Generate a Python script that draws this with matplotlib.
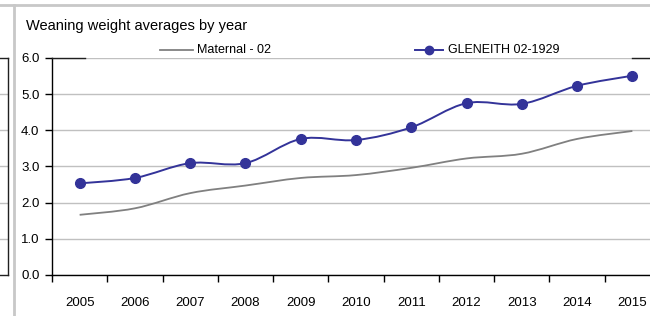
import matplotlib
matplotlib.use("Agg")
import matplotlib.pyplot as plt
from matplotlib.path import Path
from matplotlib.patches import PathPatch
from matplotlib.lines import Line2D
from matplotlib import font_manager as fm
import numpy as np

years = ["2005", "2006", "2007", "2008", "2009", "2010", "2011", "2012", "2013", "2014", "2015"]
maternal = [1.66, 1.84, 2.26, 2.47, 2.68, 2.76, 2.96, 3.22, 3.35, 3.76, 3.98]
gleneith = [2.53, 2.68, 3.09, 3.09, 3.76, 3.73, 4.08, 4.75, 4.73, 5.23, 5.51]
y_ticks = [0.0, 1.0, 2.0, 3.0, 4.0, 5.0, 6.0]
title = "Weaning weight averages by year"
series_names = ["Maternal - 02", "GLENEITH 02-1929"]

names = {f.name for f in fm.fontManager.ttflist}
fam = ["Liberation Sans Narrow", "Liberation Sans", "DejaVu Sans"]
fam = [f for f in fam if f in names] or ["DejaVu Sans"]
plt.rcParams["font.family"] = fam

BLUE = "#333399"
GREY = "#808080"
GRID = "#c0c0c0"

W, H = 650, 316
fig = plt.figure(figsize=(W / 100, H / 100), dpi=100)
fig.patch.set_facecolor("white")

# frame lines of the surrounding sheet
fig.add_artist(Line2D([0, 1], [1 - 4.5 / H, 1 - 4.5 / H], color="#c8c8c8", lw=2, transform=fig.transFigure))
fig.add_artist(Line2D([14 / W, 14 / W], [0, 1 - 4.5 / H], color="#c8c8c8", lw=2, transform=fig.transFigure))

left_px, right_px = 52, 660
bot_px, top_px = 316 - 274.8, 316 - 58
ax = fig.add_axes([left_px / W, bot_px / H, (right_px - left_px) / W, (top_px - bot_px) / H])

# neighbouring chart remnant on the left
ax0 = fig.add_axes([-300 / W, bot_px / H, (300 + 8) / W, (top_px - bot_px) / H])
ax0.set_xlim(0, 1)
ax0.set_ylim(0, 6)
for s in ["top", "left", "bottom"]:
    ax0.spines[s].set_visible(False)
ax0.spines["right"].set_color("#202020")
ax0.spines["right"].set_linewidth(1)
ax0.set_xticks([])
ax0.set_yticks(y_ticks[1:-1])
ax0.tick_params(axis="y", length=0, labelleft=False)
ax0.yaxis.grid(True, color=GRID, lw=1)
ax0.plot([0, 1], [6, 6], color="#202020", lw=1, clip_on=False)
ax0.plot([0, 1], [0, 0], color="#202020", lw=1, clip_on=False)

n = len(years)
x = np.arange(n)
ax.set_xlim(-0.5, n - 0.5)
ax.set_ylim(0, 6)


def smooth_path(xs, ys):
    pts = np.column_stack([xs, ys]).astype(float)
    verts = [pts[0]]
    codes = [Path.MOVETO]
    for i in range(len(pts) - 1):
        p0 = pts[i - 1] if i > 0 else pts[i]
        p1 = pts[i]
        p2 = pts[i + 1]
        p3 = pts[i + 2] if i + 2 < len(pts) else pts[i + 1]
        c1 = p1 + (p2 - p0) / 6.0
        c2 = p2 - (p3 - p1) / 6.0
        verts += [c1, c2, p2]
        codes += [Path.CURVE4] * 3
    return Path(verts, codes)


ax.add_patch(PathPatch(smooth_path(x, maternal), fill=False, edgecolor=GREY, lw=1.3, zorder=3))
ax.add_patch(PathPatch(smooth_path(x, gleneith), fill=False, edgecolor=BLUE, lw=1.4, zorder=4))
ax.plot(x, gleneith, linestyle="none", marker="o", ms=7, color=BLUE, zorder=5)

ax.set_yticks(y_ticks)
ax.set_yticklabels([f"{v:.1f}" for v in y_ticks])
ax.yaxis.grid(True, color=GRID, lw=1)
ax.set_axisbelow(True)
ax.set_xticks(x)
ax.set_xticklabels(years)
ax.set_xticks(np.arange(n + 1) - 0.5, minor=True)
ax.tick_params(axis="x", which="major", length=0, pad=16, labelsize=9.5, labelcolor="#000000")
ax.tick_params(axis="x", which="minor", length=5, width=1, direction="out", color="#000000")
ax.tick_params(axis="y", length=5, width=1, direction="out", pad=4, labelsize=9.5, color="#000000")
for s in ["top", "right"]:
    ax.spines[s].set_visible(False)
for s in ["left", "bottom"]:
    ax.spines[s].set_color("#000000")
    ax.spines[s].set_linewidth(1)

# top border segments visible around legend
ax.plot([-0.5, -0.5 + 33 / 55.27], [6, 6], color="#202020", lw=1, clip_on=False, zorder=6)
ax.plot([-0.5 + (632 - 52) / 55.27, n - 0.5], [6, 6], color="#202020", lw=1, clip_on=False, zorder=6)

# legend
fig.text(26 / W, 1 - 26 / H, title, fontsize=10.5, va="center", ha="left")
ly = 1 - 50 / H
fig.add_artist(Line2D([160 / W, 193 / W], [ly, ly], color=GREY, lw=1.3, transform=fig.transFigure))
fig.text(197 / W, ly, series_names[0], fontsize=9, va="center", ha="left")
fig.add_artist(Line2D([415 / W, 443 / W], [ly, ly], color=BLUE, lw=1.4, transform=fig.transFigure))
fig.add_artist(Line2D([429 / W], [ly], color=BLUE, marker="o", ms=6, lw=0, transform=fig.transFigure))
fig.text(448 / W, ly, series_names[1], fontsize=9, va="center", ha="left")

fig.savefig("out.png", dpi=100)
